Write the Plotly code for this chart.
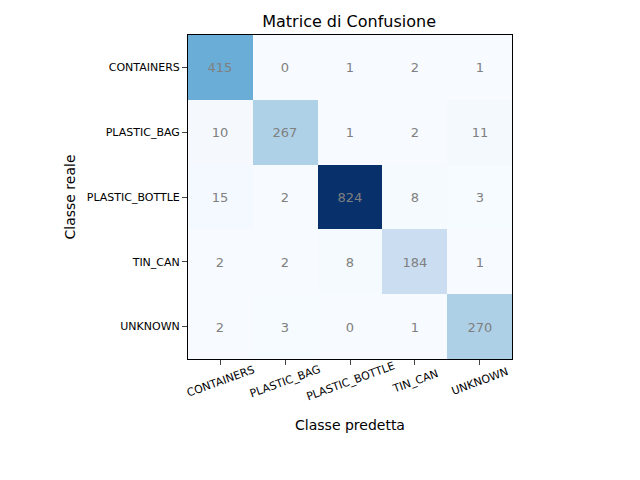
import plotly.graph_objects as go
import plotly.express as px

classes = ["CONTAINERS", "PLASTIC_BAG", "PLASTIC_BOTTLE", "TIN_CAN", "UNKNOWN"]
cm = [
    [415, 0, 1, 2, 1],
    [10, 267, 1, 2, 11],
    [15, 2, 824, 8, 3],
    [2, 2, 8, 184, 1],
    [2, 3, 0, 1, 270],
]
idx = list(range(len(classes)))

fig = go.Figure(
    go.Heatmap(
        z=cm,
        x=idx,
        y=idx,
        colorscale=px.colors.sequential.Blues,
        showscale=False,
        text=cm,
        texttemplate="%{text}",
        textfont=dict(color="gray", size=13, family="DejaVu Sans"),
        hoverinfo="skip",
    )
)

# rotated x tick labels centred on the ticks (matplotlib style)
for i, name in enumerate(classes):
    fig.add_annotation(
        x=i, y=-0.068, xref="x", yref="paper", yanchor="middle",
        text=name, textangle=-20, showarrow=False,
        font=dict(size=11, color="black", family="DejaVu Sans"),
    )

# page body adds an 8px offset, margins compensate for it
fig.update_layout(
    width=640, height=480,
    margin=dict(l=180, r=136, t=27, b=129, autoexpand=False),
    plot_bgcolor="white", paper_bgcolor="white",
    font=dict(family="DejaVu Sans", color="black"),
    title=dict(text="Matrice di Confusione", x=0.533, xanchor="center",
               y=0.973, yanchor="middle", font=dict(size=16)),
)
fig.update_xaxes(
    range=[-0.5, 4.5], tickvals=idx, showticklabels=False,
    ticks="outside", ticklen=5, showline=True, mirror=True,
    linecolor="black", linewidth=1, showgrid=False, zeroline=False,
    title=dict(text="Classe predetta", font=dict(size=14), standoff=56),
    automargin=False,
)
fig.update_yaxes(
    range=[4.5, -0.5], tickvals=idx, ticktext=classes,
    tickfont=dict(size=11), ticks="outside", ticklen=5,
    showline=True, mirror=True, linecolor="black", linewidth=1,
    showgrid=False, zeroline=False,
    title=dict(text="Classe reale", font=dict(size=14), standoff=7),
    automargin=False,
)

fig.write_html("out.html")
